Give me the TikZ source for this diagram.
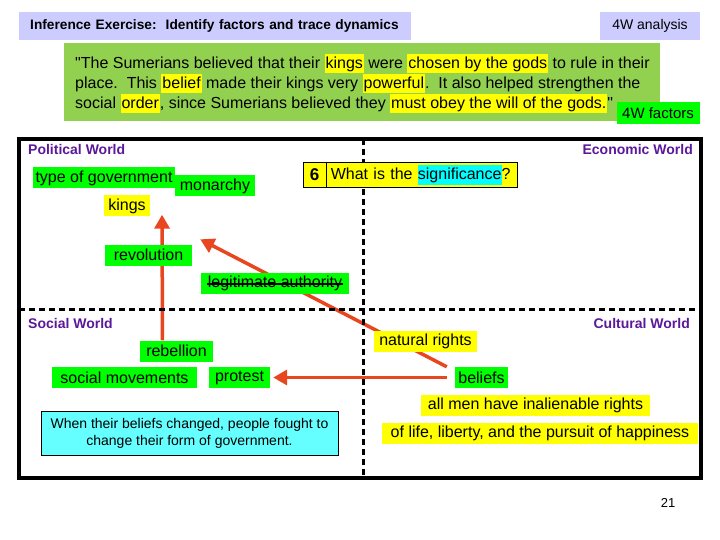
\documentclass[tikz,border=0pt]{standalone}
\usepackage{fontspec}
\setmainfont{Liberation Sans}
\newfontfamily\plainq{Liberation Sans}[Ligatures=TeXOff]
\usetikzlibrary{arrows.meta,backgrounds}
\definecolor{lav}{HTML}{CCCCFF}
\definecolor{qgreen}{HTML}{92D050}
\definecolor{bgreen}{HTML}{00FF00}
\definecolor{yel}{HTML}{FFFF00}
\definecolor{cy}{HTML}{00FFFF}
\definecolor{lcy}{HTML}{66FFFF}
\definecolor{purp}{HTML}{5A189A}
\definecolor{arr}{HTML}{E8461E}
\newcommand{\hlq}[1]{{\setlength{\fboxsep}{1pt}\colorbox{yel}{\rule[-4pt]{0pt}{17pt}#1}}}
\newcommand{\hlc}[1]{{\setlength{\fboxsep}{0pt}\colorbox{cy}{\rule[-5pt]{0pt}{20pt}#1}}}
\tikzset{
  lab/.style={font=\fontsize{16}{18}\selectfont, inner sep=0pt, minimum height=21pt},
  gbox/.style={lab, fill=bgreen},
  ybox/.style={lab, fill=yel},
  world/.style={font=\fontsize{14}{16}\selectfont\bfseries, text=purp, inner sep=0pt},
  arrowst/.style={draw=arr, line width=3.5pt, -{Triangle[length=14pt,width=15pt]}},
  divider/.style={line width=3pt, dash pattern=on 6pt off 4pt},
}
\begin{document}
\begin{tikzpicture}[x=1pt,y=-1pt]
\useasboundingbox (0,0) rectangle (720,540);
% header
\node[fill=lav, anchor=north west, minimum height=28pt, text width=370pt, inner xsep=11pt, align=left,
      font=\fontsize{13.7}{15}\selectfont\bfseries] (title) at (19,12)
      {Inference Exercise:\ \ Identify factors and trace dynamics};
\node[fill=lav, minimum width=100pt, minimum height=28pt, inner sep=0pt,
      font=\fontsize{14}{16}\selectfont] (analysis) at (650,26) {4W analysis};
% quote
\node[fill=qgreen, anchor=north west, minimum width=596pt, minimum height=78pt, inner sep=0pt] (qbox) at (64,43) {};
\node[anchor=north west, align=left, inner sep=0pt, font=\fontsize{16}{20}\selectfont\plainq] (quote) at (75,54)
  {"The Sumerians believed that their \hlq{kings} were \hlq{chosen by the gods} to rule in their\\
   place.\ \ This \hlq{belief} made their kings very \hlq{powerful}.\ \ It also helped strengthen the\\
   social \hlq{order}, since Sumerians believed they \hlq{must obey the will of the gods.}"};
\node[fill=bgreen, minimum width=83pt, minimum height=22pt, inner sep=0pt,
      font=\fontsize{15}{17}\selectfont] (factors) at (658,113) {4W factors};
% frame
\draw[divider] (363,139) -- (363,478);
\draw[divider] (19,309) -- (701,309);
\draw[line width=4pt] (19,139) rectangle (701,478);
% world labels
\node[world, anchor=west] (pol) at (28,149) {Political World};
\node[world, anchor=east] (eco) at (693,149) {Economic World};
\node[world, anchor=west] (soc) at (28,323) {Social World};
\node[world, anchor=east] (cul) at (690,323) {Cultural World};
% political
\node[gbox, minimum width=142pt] (tog) at (104,178) {type of government};
\node[gbox, minimum width=80pt] (mon) at (215,186) {monarchy};
\node[ybox, minimum width=46pt] (kings) at (127,206) {kings};
\node[gbox, minimum width=87pt] (rev) at (148.5,255) {revolution};
\node[gbox, minimum width=148pt] (legit) at (275,283) {legitimate authority};
\draw[line width=1.8pt] ([xshift=6pt,yshift=-1pt]legit.west) -- ([xshift=-6pt,yshift=-1pt]legit.east);
% question
\node[draw=black, line width=0.8pt, fill=yel, minimum width=23pt, minimum height=25pt, inner sep=0pt,
      font=\fontsize{17}{19}\selectfont\bfseries] (six) at (314.5,175) {6};
\node[draw=black, line width=0.8pt, fill=yel, anchor=west, text width=183pt, align=left, inner xsep=4pt,
      minimum height=25pt, inner ysep=0pt,
      font=\fontsize{16}{18}\selectfont] (q) at (six.east) {What is the \hlc{significance}?};
% social
\node[gbox, minimum width=73pt] (reb) at (176.5,351) {rebellion};
\node[gbox, minimum width=145pt] (socm) at (124.5,377.5) {social movements};
\node[gbox, minimum width=61pt] (prot) at (239.5,377.5) {protest};
\node[draw=black, line width=0.8pt, fill=lcy, minimum width=297pt, minimum height=44pt, inner sep=0pt, align=center,
      font=\fontsize{14}{17}\selectfont] (note) at (189.5,433)
      {When their beliefs changed, people fought to\\change their form of government.};
% cultural
\node[ybox, minimum width=103pt] (nat) at (425.5,341.5) {natural rights};
\node[gbox, minimum width=53pt] (bel) at (481.5,377.5) {beliefs};
\node[ybox, minimum width=229pt] (allmen) at (535.5,405.5) {all men have inalienable rights};
\node[ybox, minimum width=316pt] (life) at (540,433) {of life, liberty, and the pursuit of happiness};
% page number
\node[font=\fontsize{13}{15}\selectfont, inner sep=0pt] (pg) at (668,503) {21};
% arrows
\begin{scope}[on background layer]
\draw[arrowst] ([xshift=-14pt]reb.north) -- ([xshift=35pt,yshift=2pt]kings.south);
\draw[arrowst] ([xshift=-8pt]bel.north west) -- ([xshift=8pt,yshift=5pt]rev.north east);
\end{scope}
\draw[arrowst] ([xshift=-8pt]bel.west) -- ([xshift=3pt]prot.east);
\end{tikzpicture}
\end{document}
